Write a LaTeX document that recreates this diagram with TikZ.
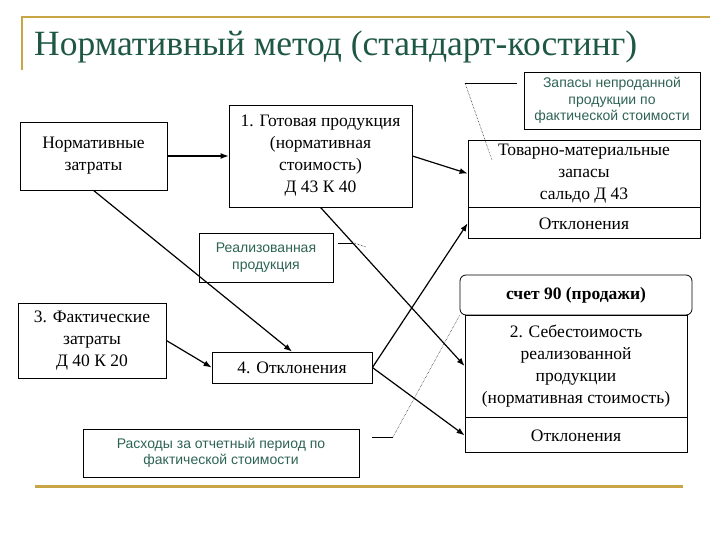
\documentclass[tikz,border=0pt]{standalone}
\usepackage{fontspec}
\setmainfont{Liberation Serif}
\newfontfamily\notefont{Liberation Sans}
\usepackage{xcolor}
\usepackage{tikz}
\usetikzlibrary{arrows.meta,positioning}
\definecolor{titlegreen}{HTML}{1E5744}
\definecolor{noteteal}{HTML}{2E6354}
\definecolor{ruleyellow}{HTML}{C8A545}

\begin{document}
\begin{tikzpicture}[x=1pt,y=-1pt,
  box/.style={draw,line width=0.8pt,inner sep=0pt,align=center,font=\fontsize{17.5}{22}\selectfont},
  notebox/.style={draw,line width=0.8pt,inner sep=0pt,align=center,text=noteteal,font=\notefont\fontsize{14}{16.5}\selectfont},
  flow/.style={line width=1.2pt,-{Latex[length=8pt,width=6pt]}},
  callout/.style={line width=0.5pt}]
  \useasboundingbox (0,0) rectangle (720,540);
  \draw[ruleyellow,line width=2pt] (22,70) -- (22,17) -- (710,17);
  \draw[ruleyellow,line width=3pt] (35,486) -- (683,486);
  \node[anchor=west,inner sep=0pt,text=titlegreen,font=\fontsize{35.5}{40}\selectfont] (title) at (34,47) {Нормативный метод (стандарт-костинг)};

  \node[box,minimum width=147pt,minimum height=68pt] (norm) at (93.5,156) {Нормативные\\затраты};
  \node[box,minimum width=183pt,minimum height=102pt] (goods) at (320.5,156) {1. Готовая продукция\\(нормативная\\стоимость)\\Д 43 К 40};
  \node[notebox,minimum width=134pt,minimum height=49pt] (sold) at (266,257.5) {Реализованная\\продукция};
  \node[notebox,minimum width=176pt,minimum height=57pt] (stock) at (612,100.5) {Запасы непроданной\\продукции по\\фактической стоимости};
  \node[box,minimum width=232pt,minimum height=67pt] (tmz) at (584,173.5) {Товарно-материальные\\запасы\\сальдо Д 43};
  \node[box,minimum width=232pt,minimum height=31pt,below=0pt of tmz] (tmzdev) {Отклонения};
  \node[box,rounded corners=6pt,minimum width=232pt,minimum height=40pt] (acc90) at (576,295) {\textbf{счет 90 (продажи)}};
  \node[box,minimum width=222pt,minimum height=102pt] (sebest) at (576,366) {2. Себестоимость\\реализованной\\продукции\\(нормативная стоимость)};
  \node[box,minimum width=222pt,minimum height=35pt,below=0pt of sebest] (sebdev) {Отклонения};
  \node[box,minimum width=148pt,minimum height=75pt] (fact) at (92,340.5) {3. Фактические\\затраты\\Д 40 К 20};
  \node[box,minimum width=160pt,minimum height=31pt] (dev) at (292,367.5) {4. Отклонения};
  \node[notebox,minimum width=276pt,minimum height=48pt] (exp) at (221,453) {Расходы за отчетный период по\\фактической стоимости};

  \draw[flow] (norm) -- (goods);
  \draw[flow] (norm.south) -- (dev.north);
  \draw[flow] (goods.east) -- (tmz.west);
  \draw[flow] (goods.south) -- (sebest.west);
  \draw[flow] (fact.east) -- (dev.west);
  \draw[flow] (dev.east) -- (tmzdev.west);
  \draw[flow] (dev.east) -- (sebdev.west);

  \coordinate (stockbend) at (465,83);
  \coordinate (stockend) at (492,160);
  \draw[callout] ([xshift=-7pt]stock.west |- stockbend) -- (stockbend);
  \draw[callout,densely dotted] (stockbend) -- (stockend);
  \coordinate (soldbend) at (354,243);
  \coordinate (soldend) at (366,247);
  \draw[callout] ([xshift=5pt]sold.east |- soldbend) -- (soldbend);
  \draw[callout,densely dotted] (soldbend) -- (soldend);
  \coordinate (expbend) at (393,437);
  \draw[callout] ([xshift=13pt]exp.east |- expbend) -- (expbend);
  \draw[callout,densely dotted] (expbend) -- (acc90.south west);
\end{tikzpicture}
\end{document}
